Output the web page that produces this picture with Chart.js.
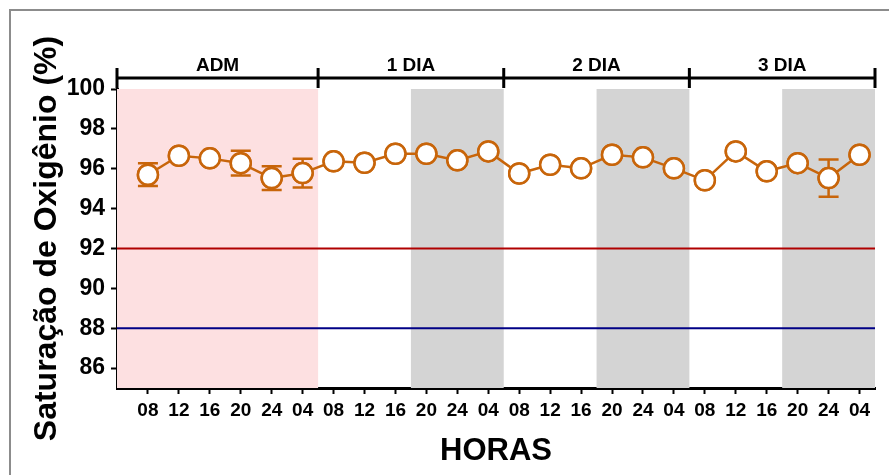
<!DOCTYPE html>
<html lang="pt">
<head>
    <meta charset="UTF-8">
    <title>Saturação de Oxigênio</title>
    <script src="https://cdn.jsdelivr.net/npm/chart.js"></script>
    <style>
        html, body {
            margin: 0;
            padding: 0;
            background: #ffffff;
        }
        .frame {
            position: absolute;
            left: 9px;
            top: 9px;
            width: 900px;
            height: 500px;
            border-left: 2px solid #8c8c8c;
            border-top: 2px solid #8c8c8c;
        }
        .chart-container {
            position: absolute;
            left: 0;
            top: 0;
            width: 889px;
            height: 475px;
        }
    </style>
</head>
<body>
    <div class="frame"></div>
    <div class="chart-container">
        <canvas id="satChart"></canvas>
    </div>

    <script>
        // horas de cada medida
        const horas = ['08', '12', '16', '20', '24', '04',
                       '08', '12', '16', '20', '24', '04',
                       '08', '12', '16', '20', '24', '04',
                       '08', '12', '16', '20', '24', '04'];
        const saturacao = [95.7, 96.65, 96.52, 96.28, 95.53, 95.78,
                           96.37, 96.3, 96.75, 96.75, 96.42, 96.87,
                           95.76, 96.2, 96.02, 96.7, 96.57, 96.02,
                           95.42, 96.87, 95.87, 96.28, 95.53, 96.7];
        const erro = [0.57, 0, 0, 0.62, 0.6, 0.72,
                      0, 0, 0, 0, 0, 0,
                      0, 0, 0, 0, 0, 0,
                      0, 0, 0, 0, 0.93, 0];
        const periodos = ['ADM', '1 DIA', '2 DIA', '3 DIA'];
        const limites = [-1, 5.5, 11.5, 17.5, 23.5];
        const noites = [[8.5, 11.5], [14.5, 17.5], [20.5, 23.5]];
        const linhaVermelha = 92;
        const linhaAzul = 88;

        const laranja = '#c8650a';
        const fonte = '"Liberation Sans", Arial, sans-serif';

        const pontos = saturacao.map(function(v, i) { return { x: i, y: v }; });
        const xMin = limites[0];
        const xMax = limites[limites.length - 1];

        const fundoPlugin = {
            id: 'fundo',
            beforeDatasetsDraw: function(chart) {
                const ctx = chart.ctx;
                const x = chart.scales.x;
                const area = chart.chartArea;
                ctx.save();
                ctx.fillStyle = '#fde0e1';
                ctx.fillRect(x.getPixelForValue(limites[0]), area.top,
                    x.getPixelForValue(limites[1]) - x.getPixelForValue(limites[0]), area.bottom - area.top);
                ctx.fillStyle = '#d4d4d4';
                noites.forEach(function(n) {
                    const a = x.getPixelForValue(n[0]);
                    const b = x.getPixelForValue(n[1]);
                    ctx.fillRect(a, area.top, b - a, area.bottom - area.top);
                });
                ctx.restore();
            },
            afterDatasetsDraw: function(chart) {
                // barras de erro
                const ctx = chart.ctx;
                const x = chart.scales.x;
                const y = chart.scales.y;
                ctx.save();
                ctx.strokeStyle = laranja;
                ctx.lineWidth = 2.5;
                saturacao.forEach(function(v, i) {
                    if (!erro[i]) return;
                    const px = x.getPixelForValue(i);
                    const top = y.getPixelForValue(v + erro[i]);
                    const bot = y.getPixelForValue(v - erro[i]);
                    ctx.beginPath();
                    ctx.moveTo(px, top);
                    ctx.lineTo(px, bot);
                    ctx.moveTo(px - 10, top);
                    ctx.lineTo(px + 10, top);
                    ctx.moveTo(px - 10, bot);
                    ctx.lineTo(px + 10, bot);
                    ctx.stroke();
                });
                ctx.restore();
                // redesenha os pontos por cima das barras
                const meta = chart.getDatasetMeta(2);
                meta.data.forEach(function(el) { el.draw(ctx, chart.chartArea); });
            },
            afterDraw: function(chart) {
                // colchete dos períodos
                const ctx = chart.ctx;
                const x = chart.scales.x;
                const yb = 78;
                ctx.save();
                ctx.strokeStyle = '#000';
                ctx.lineWidth = 3;
                ctx.beginPath();
                ctx.moveTo(x.getPixelForValue(xMin), yb);
                ctx.lineTo(x.getPixelForValue(xMax) + 1, yb);
                limites.forEach(function(l) {
                    const px = x.getPixelForValue(l);
                    ctx.moveTo(px, yb - 10);
                    ctx.lineTo(px, yb + 10);
                });
                ctx.stroke();
                ctx.fillStyle = '#000';
                ctx.font = 'bold 19px ' + fonte;
                ctx.textAlign = 'center';
                ctx.textBaseline = 'alphabetic';
                periodos.forEach(function(p, i) {
                    const c = (x.getPixelForValue(limites[i]) + x.getPixelForValue(limites[i + 1])) / 2;
                    ctx.fillText(p, c, 71);
                });
                ctx.restore();
            }
        };

        const ctx = document.getElementById('satChart').getContext('2d');
        const satChart = new Chart(ctx, {
            type: 'line',
            data: {
                datasets: [{
                    data: [{ x: xMin, y: linhaVermelha }, { x: xMax, y: linhaVermelha }],
                    borderColor: '#b00000',
                    borderWidth: 2,
                    pointRadius: 0
                }, {
                    data: [{ x: xMin, y: linhaAzul }, { x: xMax, y: linhaAzul }],
                    borderColor: '#000086',
                    borderWidth: 2,
                    pointRadius: 0
                }, {
                    data: pontos,
                    borderColor: laranja,
                    borderWidth: 2.5,
                    pointRadius: 10,
                    pointBorderWidth: 2.5,
                    pointBackgroundColor: '#ffffff',
                    pointBorderColor: laranja
                }]
            },
            options: {
                responsive: true,
                maintainAspectRatio: false,
                animation: false,
                layout: { padding: { left: 0, right: 14, top: 89, bottom: 0 } },
                plugins: {
                    legend: { display: false },
                    tooltip: { enabled: false }
                },
                scales: {
                    x: {
                        type: 'linear',
                        min: xMin,
                        max: xMax,
                        z: 1,
                        afterBuildTicks: function(scale) {
                            scale.ticks = horas.map(function(h, i) { return { value: i }; });
                        },
                        afterFit: function(scale) { scale.height = 87; },
                        border: { color: '#000', width: 3 },
                        grid: { drawOnChartArea: false, tickLength: 6, tickWidth: 2, tickColor: '#000' },
                        ticks: {
                            color: '#000',
                            font: { family: fonte, size: 19, weight: 'bold' },
                            maxRotation: 0,
                            autoSkip: false,
                            padding: 5,
                            callback: function(v) { return horas[v]; }
                        },
                        title: {
                            display: true,
                            text: 'HORAS',
                            color: '#000',
                            font: { family: fonte, size: 31, weight: 'bold' },
                            padding: { top: 0, bottom: 5 }
                        }
                    },
                    y: {
                        min: 85,
                        max: 100,
                        z: 1,
                        afterBuildTicks: function(scale) {
                            const t = [];
                            for (let v = 86; v <= 100; v += 2) t.push({ value: v });
                            scale.ticks = t;
                        },
                        afterFit: function(scale) { scale.width = 117; },
                        border: { color: '#000', width: 3 },
                        grid: { drawOnChartArea: false, tickLength: 6, tickWidth: 2, tickColor: '#000' },
                        ticks: {
                            color: '#000',
                            font: { family: fonte, size: 23, weight: 'bold' },
                            padding: 6
                        },
                        title: {
                            display: true,
                            text: 'Saturação de Oxigênio (%)',
                            color: '#000',
                            font: { family: fonte, size: 32, weight: 'bold' },
                            padding: { top: 28, bottom: 0 }
                        }
                    }
                }
            },
            plugins: [fundoPlugin]
        });
    </script>
</body>
</html>
